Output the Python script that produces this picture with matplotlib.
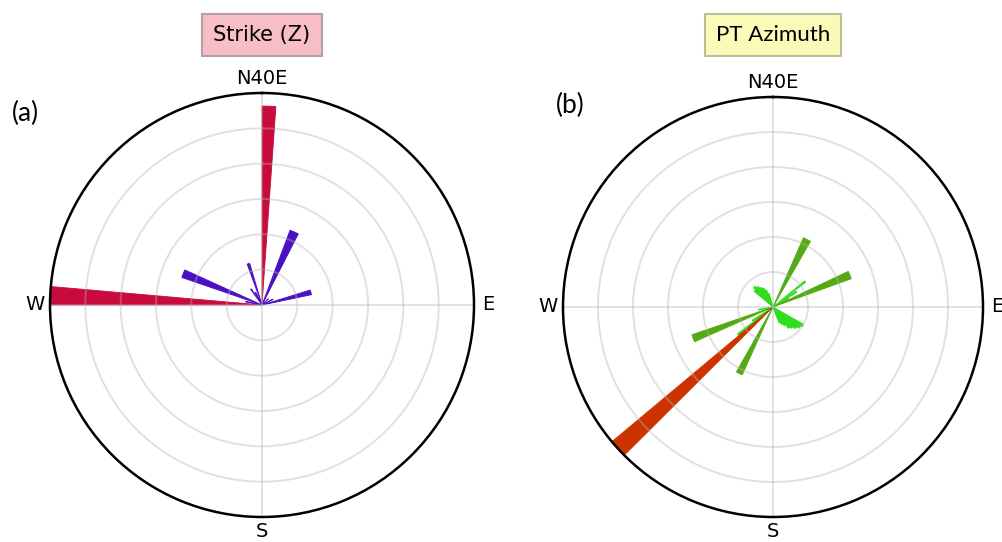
import matplotlib.pyplot as plt
import numpy as np

# Panel (a) - Strike (Z)
a_red_ang = [2.0, 272.5]
a_red_r = [5.63, 6.0]
a_red_w = [4.0, 5.0]

a_blue_ang = [23.8, 291.7, 75.5, 341.8, 325.5, 281.7, 62.6, 332.0, 45.0]
a_blue_r = [2.26, 2.40, 1.43, 1.23, 0.55, 0.47, 0.35, 0.40, 0.25]
a_blue_w = [6.5, 5.5, 5.5, 3.5, 2.5, 2.5, 2.5, 2.5, 2.5]

# Panel (b) - PT Azimuth
b_red_ang = [227.6]
b_red_r = [6.0]
b_red_w = [5.0]

b_dark_ang = [26.7, 67.4, 248.6, 206.9]
b_dark_r = [2.16, 2.38, 2.45, 2.13]
b_dark_w = [6.0, 5.5, 5.0, 5.0]

b_light_ang = [51.7, 57.0, 62.0,
               312.0, 317.0, 322.0, 327.0, 332.0, 337.0, 342.0,
               122.0, 127.0, 132.0, 137.0, 142.0, 147.0, 152.0, 157.0,
               231.5, 236.0, 259.6]
b_light_r = [1.17, 0.80, 0.50,
             0.70, 0.78, 0.72, 0.65, 0.60, 0.52, 0.40,
             1.00, 0.95, 0.88, 0.80, 0.75, 0.62, 0.55, 0.48,
             1.27, 0.70, 0.43]
b_light_w = [2.5, 3.0, 3.0,
             5.0, 5.0, 5.0, 5.0, 5.0, 5.0, 5.0,
             5.0, 5.0, 5.0, 5.0, 5.0, 5.0, 5.0, 5.0,
             3.0, 3.0, 3.0]

tick_pos = [0, 90, 180, 270]
tick_lab = ['N40E', 'E', 'S', 'W']


def setup(ax):
    ax.set_theta_zero_location('N')
    ax.set_theta_direction(-1)
    ax.set_ylim(0, 6)
    ax.set_yticks([1, 2, 3, 4, 5])
    ax.set_yticklabels([])
    ax.set_xticks(np.deg2rad(tick_pos))
    ax.set_xticklabels(tick_lab, fontsize=14)
    ax.tick_params(axis='x', pad=0)
    ax.grid(True, color='#b4b4b4', alpha=0.4, lw=1.4)
    ax.spines['polar'].set_linewidth(1.8)


def rose(ax, ang, r, w, col):
    ax.bar(np.deg2rad(ang), r, width=np.deg2rad(w), bottom=0,
           color=col, edgecolor=col, linewidth=0.6)


fig = plt.figure(figsize=(10.02, 5.42), dpi=100)

ax1 = fig.add_axes([50/1002, 25/542, 424/1002, 424/542], projection='polar')
setup(ax1)
rose(ax1, a_red_ang, a_red_r, a_red_w, '#c80a3c')
rose(ax1, a_blue_ang, a_blue_r, a_blue_w, '#4a10c2')

ax2 = fig.add_axes([563/1002, 25/542, 420/1002, 420/542], projection='polar')
setup(ax2)
rose(ax2, b_light_ang, b_light_r, b_light_w, '#2ede1c')
rose(ax2, b_dark_ang, b_dark_r, b_dark_w, '#52aa14')
rose(ax2, b_red_ang, b_red_r, b_red_w, '#cc3300')

fig.text(262/1002, 1 - 35/542, 'Strike (Z)', ha='center', va='center', fontsize=15,
         bbox=dict(boxstyle='square,pad=0.55', fc='#f7bec8', ec='#b4a0a0', lw=1.5))
fig.text(773/1002, 1 - 35/542, 'PT Azimuth', ha='center', va='center', fontsize=16,
         family=['Lato', 'DejaVu Sans'],
         bbox=dict(boxstyle='square,pad=0.5', fc='#fafab9', ec='#bebe96', lw=1.5))

fig.text(25/1002, 1 - 113/542, '(a)', ha='center', va='center', fontsize=19,
         family=['Lato', 'DejaVu Sans'])
fig.text(570/1002, 1 - 105/542, '(b)', ha='center', va='center', fontsize=19,
         family=['Lato', 'DejaVu Sans'])

fig.savefig('out.png', dpi=100)
